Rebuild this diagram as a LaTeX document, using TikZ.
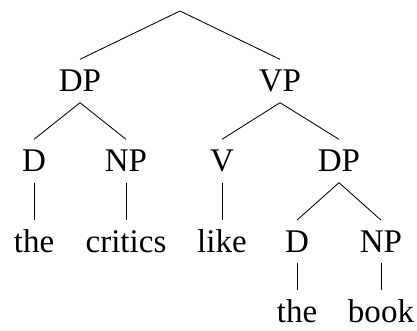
\documentclass[tikz,border=0pt]{standalone}
\usepackage{fontspec}
\setmainfont{Liberation Serif}

\begin{document}
\begin{tikzpicture}[tnode/.style={anchor=base,inner xsep=0pt,inner ysep=0.27cm,text height=0.53cm,text depth=0pt,font=\fontsize{23.5}{28}\selectfont}, leaf/.style={tnode,inner ysep=0pt,text height=0.8cm}]
    \useasboundingbox (0,0) rectangle (10.425,-8.25);
    \coordinate (s) at (4.5,-0.275);
    \node[tnode] (dp) at (2,-2.29) {DP};
    \node[tnode] (vp) at (7,-2.29) {VP};
    \node[tnode] (d1) at (0.85,-4.29) {D};
    \node[tnode] (np1) at (3.15,-4.29) {NP};
    \node[tnode] (v) at (5.55,-4.29) {V};
    \node[tnode] (dp2) at (8.475,-4.29) {DP};
    \node[tnode] (the1) at (0.85,-6.31) {the};
    \node[tnode] (critics) at (3.15,-6.31) {critics};
    \node[tnode] (like) at (5.55,-6.31) {like};
    \node[tnode] (d2) at (7.425,-6.31) {D};
    \node[tnode] (np2) at (9.525,-6.31) {NP};
    \node[leaf] (the2) at (7.425,-8.05) {the};
    \node[leaf] (book) at (9.525,-8.05) {book};

   \begin{scope}[line width=0.6pt]
    \draw (s) -- (dp.north);
    \draw (s) -- (vp.north);
    \draw (dp.south) -- (d1.north);
    \draw (dp.south) -- (np1.north);
    \draw (vp.south) -- (v.north);
    \draw (vp.south) -- (dp2.north);
    \draw (d1.south) -- (the1.north);
    \draw (np1.south) -- (critics.north);
    \draw (v.south) -- (like.north);
    \draw (dp2.south) -- (d2.north);
    \draw (dp2.south) -- (np2.north);
    \draw (d2.south) -- (the2.north);
    \draw (np2.south) -- (book.north);
   \end{scope}
\end{tikzpicture}
\end{document}
